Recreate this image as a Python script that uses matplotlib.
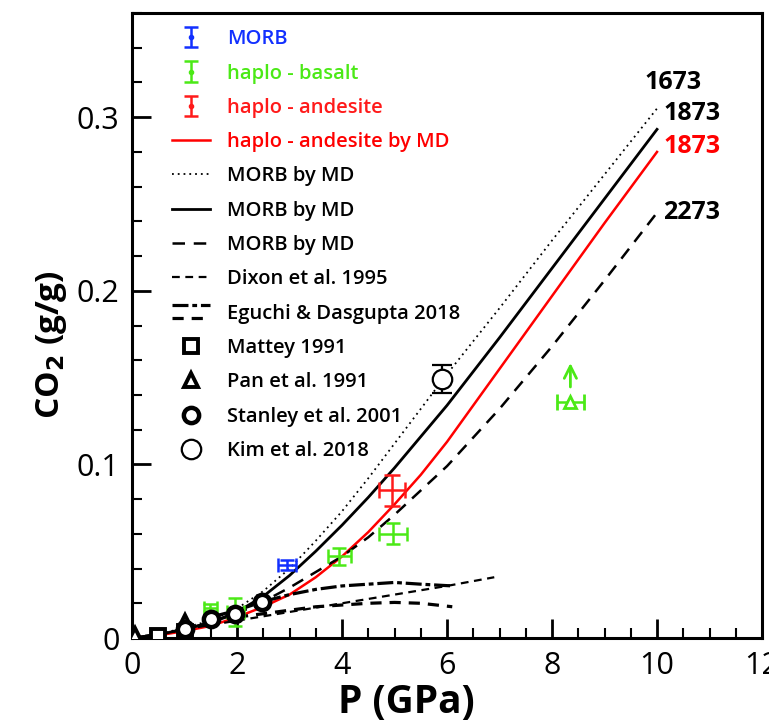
import numpy as np
import matplotlib
matplotlib.use('Agg')
import matplotlib.pyplot as plt
from matplotlib.lines import Line2D
from matplotlib.legend_handler import HandlerBase
from matplotlib.ticker import MultipleLocator, FuncFormatter

plt.rcParams['font.family'] = ['Open Sans', 'DejaVu Sans']

# --- curvas MD (P em GPa, CO2 em g/g) ---
p_md = [0, 0.5, 1, 1.5, 2, 2.5, 3, 3.5, 4, 4.5, 5, 5.5, 6, 7, 8, 9, 10]
co2_morb_1673 = [0, 0.002, 0.006, 0.010, 0.017, 0.027, 0.040, 0.056, 0.073, 0.092, 0.112, 0.132, 0.152, 0.190, 0.229, 0.267, 0.305]
co2_morb_1873 = [0, 0.002, 0.005, 0.009, 0.015, 0.024, 0.036, 0.050, 0.065, 0.081, 0.098, 0.116, 0.134, 0.173, 0.213, 0.253, 0.293]
co2_andes_1873 = [0, 0.0015, 0.004, 0.007, 0.012, 0.018, 0.025, 0.035, 0.047, 0.061, 0.077, 0.094, 0.113, 0.155, 0.197, 0.239, 0.280]
co2_morb_2273 = [0, 0.002, 0.005, 0.009, 0.014, 0.021, 0.029, 0.038, 0.047, 0.058, 0.071, 0.085, 0.099, 0.132, 0.168, 0.206, 0.245]

# --- modelos da literatura ---
p_dixon = [0, 1, 2, 3, 4, 5, 6, 6.9]
co2_dixon = [0, 0.005, 0.010, 0.015, 0.020, 0.025, 0.030, 0.035]
p_eguchi_a = [1.5, 2, 2.5, 3, 3.5, 4, 4.5, 5, 5.5, 6.1]
co2_eguchi_a = [0.012, 0.016, 0.021, 0.025, 0.028, 0.030, 0.031, 0.032, 0.031, 0.030]
p_eguchi_b = [2, 2.5, 3, 3.5, 4, 4.5, 5, 5.5, 6.1]
co2_eguchi_b = [0.012, 0.014, 0.016, 0.018, 0.019, 0.020, 0.0205, 0.020, 0.018]

# --- experimentos ---
p_morb, co2_morb, pe_morb, ce_morb = [2.95], [0.042], [0.17], [0.003]
p_basalt = [1.49, 1.97, 3.95, 4.97]
co2_basalt = [0.0175, 0.015, 0.047, 0.060]
pe_basalt = [0.12, 0.16, 0.22, 0.26]
ce_basalt = [0.002, 0.008, 0.005, 0.006]
p_basalt_min, co2_basalt_min, pe_basalt_min = [8.35], [0.136], [0.26]
p_andes, co2_andes, pe_andes, ce_andes = [4.95], [0.085], [0.25], [0.009]

p_mattey, co2_mattey = [0.5, 1.0], [0.001, 0.0035]
p_pan, co2_pan = [0.05, 1.0], [0.002, 0.009]
p_stanley, co2_stanley = [1.0, 1.5, 1.97, 2.48], [0.005, 0.011, 0.014, 0.021]
p_kim, co2_kim, ce_kim = [5.9], [0.149], [0.008]

BLUE = '#1230ff'
GREEN = '#4be916'
RED = '#ff1a1a'

DASH_EG_A = (0, (5, 1.2, 1.5, 1.2))
DASH_EG_B = (0, (3.5, 2.5))


class DoubleLineHandler(HandlerBase):
    """Legenda com duas linhas empilhadas (Eguchi & Dasgupta)."""
    def create_artists(self, legend, orig_handle, xdescent, ydescent,
                       width, height, fontsize, trans):
        y = height / 2 - ydescent
        arts = []
        for ls, dy in [(DASH_EG_A, 4.5), (DASH_EG_B, -4.5)]:
            ln = Line2D([-xdescent, width - xdescent], [y + dy, y + dy],
                        color='k', lw=2.3, linestyle=ls)
            ln.set_transform(trans)
            arts.append(ln)
        return arts


fig = plt.figure(figsize=(7.69, 7.25), dpi=100)
ax = fig.add_axes([0.1717, 0.12, 0.8192, 0.862])

# curvas
l_andes, = ax.plot(p_md, co2_andes_1873, color='red', lw=1.8)
l_1673, = ax.plot(p_md, co2_morb_1673, color='k', lw=1.3, linestyle=(0, (1, 2.2)))
l_1873, = ax.plot(p_md, co2_morb_1873, color='k', lw=2.0)
l_2273, = ax.plot(p_md, co2_morb_2273, color='k', lw=1.8, linestyle=(0, (5, 3.5)))
l_dixon, = ax.plot(p_dixon, co2_dixon, color='k', lw=1.6, linestyle=(0, (3.5, 2.5)))
l_eg_a, = ax.plot(p_eguchi_a, co2_eguchi_a, color='k', lw=2.3, linestyle=DASH_EG_A)
l_eg_b, = ax.plot(p_eguchi_b, co2_eguchi_b, color='k', lw=2.3, linestyle=DASH_EG_B)

# pontos experimentais com barras de erro
ax.errorbar(p_morb, co2_morb, xerr=pe_morb, yerr=ce_morb, fmt='none',
            ecolor=BLUE, elinewidth=1.8, capsize=5, capthick=1.8, zorder=5)
ax.errorbar(p_basalt, co2_basalt, xerr=pe_basalt, yerr=ce_basalt, fmt='none',
            ecolor=GREEN, elinewidth=1.8, capsize=5, capthick=1.8, zorder=5)
ax.errorbar(p_basalt_min, co2_basalt_min, xerr=pe_basalt_min, fmt='^', ms=8,
            mfc='white', mec=GREEN, mew=2, ecolor=GREEN, elinewidth=1.8,
            capsize=6, capthick=1.8, zorder=5)
ax.annotate('', xy=(p_basalt_min[0], co2_basalt_min[0] + 0.024),
            xytext=(p_basalt_min[0], co2_basalt_min[0] + 0.007),
            arrowprops=dict(arrowstyle='->', color=GREEN, lw=2, mutation_scale=22))
ax.errorbar(p_andes, co2_andes, xerr=pe_andes, yerr=ce_andes, fmt='none',
            ecolor=RED, elinewidth=1.8, capsize=6, capthick=1.8, zorder=5)

s_mattey, = ax.plot(p_mattey, co2_mattey, 's', ms=10, mfc='white', mec='k', mew=2.8, zorder=6)
s_pan, = ax.plot(p_pan, co2_pan, '^', ms=10, mfc='white', mec='k', mew=2.8, zorder=6)
s_stanley, = ax.plot(p_stanley, co2_stanley, 'o', ms=11, mfc='white', mec='k', mew=3.2, zorder=6)
ax.errorbar(p_kim, co2_kim, yerr=ce_kim, fmt='o', ms=14, mfc='white', mec='k',
            mew=1.6, ecolor='k', elinewidth=1.6, capsize=7, capthick=1.6, zorder=6)
s_kim = Line2D([], [], marker='o', ls='none', ms=14, mfc='white', mec='k', mew=1.6)

# rótulos de temperatura
ax.text(9.77, 0.320, '1673', fontsize=18, weight='bold', va='center')
ax.text(10.12, 0.302, '1873', fontsize=18, weight='bold', va='center')
ax.text(10.12, 0.283, '1873', fontsize=18, weight='bold', va='center', color='red')
ax.text(10.12, 0.245, '2273', fontsize=18, weight='bold', va='center')

# proxies da legenda (barras de erro verticais)
def proxy_err(color):
    return ax.errorbar([np.nan], [np.nan], yerr=[0.01], fmt='o', ms=3, color=color,
                       elinewidth=1.8, capsize=5, capthick=1.8)

h_morb = proxy_err(BLUE)
h_basalt = proxy_err(GREEN)
h_andes = proxy_err(RED)

handles = [h_morb, h_basalt, h_andes, l_andes, l_1673, l_1873, l_2273,
           l_dixon, l_eg_a, s_mattey, s_pan, s_stanley, s_kim]
labels = ['MORB', 'haplo - basalt', 'haplo - andesite', 'haplo - andesite by MD',
          'MORB by MD', 'MORB by MD', 'MORB by MD', 'Dixon et al. 1995',
          'Eguchi & Dasgupta 2018', 'Mattey 1991', 'Pan et al. 1991',
          'Stanley et al. 2001', 'Kim et al. 2018']
leg = ax.legend(handles, labels, loc='upper left', bbox_to_anchor=(0.063, 0.974),
                frameon=False, borderpad=0, borderaxespad=0,
                handlelength=1.9, handletextpad=0.85, labelspacing=0.71,
                numpoints=1, prop={'weight': 'semibold', 'size': 14.5},
                handler_map={l_eg_a: DoubleLineHandler()})
for txt, col in zip(leg.get_texts(), [BLUE, GREEN, RED, 'red']):
    txt.set_color(col)

# eixos
ax.set_xlim(0, 12)
ax.set_ylim(0, 0.36)
ax.xaxis.set_major_locator(MultipleLocator(2))
ax.xaxis.set_minor_locator(MultipleLocator(0.5))
ax.yaxis.set_major_locator(MultipleLocator(0.1))
ax.yaxis.set_minor_locator(MultipleLocator(0.02))
ax.yaxis.set_major_formatter(FuncFormatter(lambda v, p: '0' if abs(v) < 1e-9 else f'{v:.1f}'))
ax.tick_params(which='major', direction='in', length=14, width=2, labelsize=22, pad=9)
ax.tick_params(which='minor', direction='in', length=7, width=1.5)
ax.tick_params(top=False, right=False, which='both')
for sp in ax.spines.values():
    sp.set_linewidth(2.2)

ax.set_xlabel('P (GPa)', fontsize=28, weight='bold')
ax.set_ylabel('CO$_\\mathbf{2}$ (g/g)', fontsize=24, weight='bold')
ax.xaxis.set_label_coords(0.435, -0.072)
ax.yaxis.set_label_coords(-0.10, 0.47)

fig.savefig('out.png', dpi=100)
